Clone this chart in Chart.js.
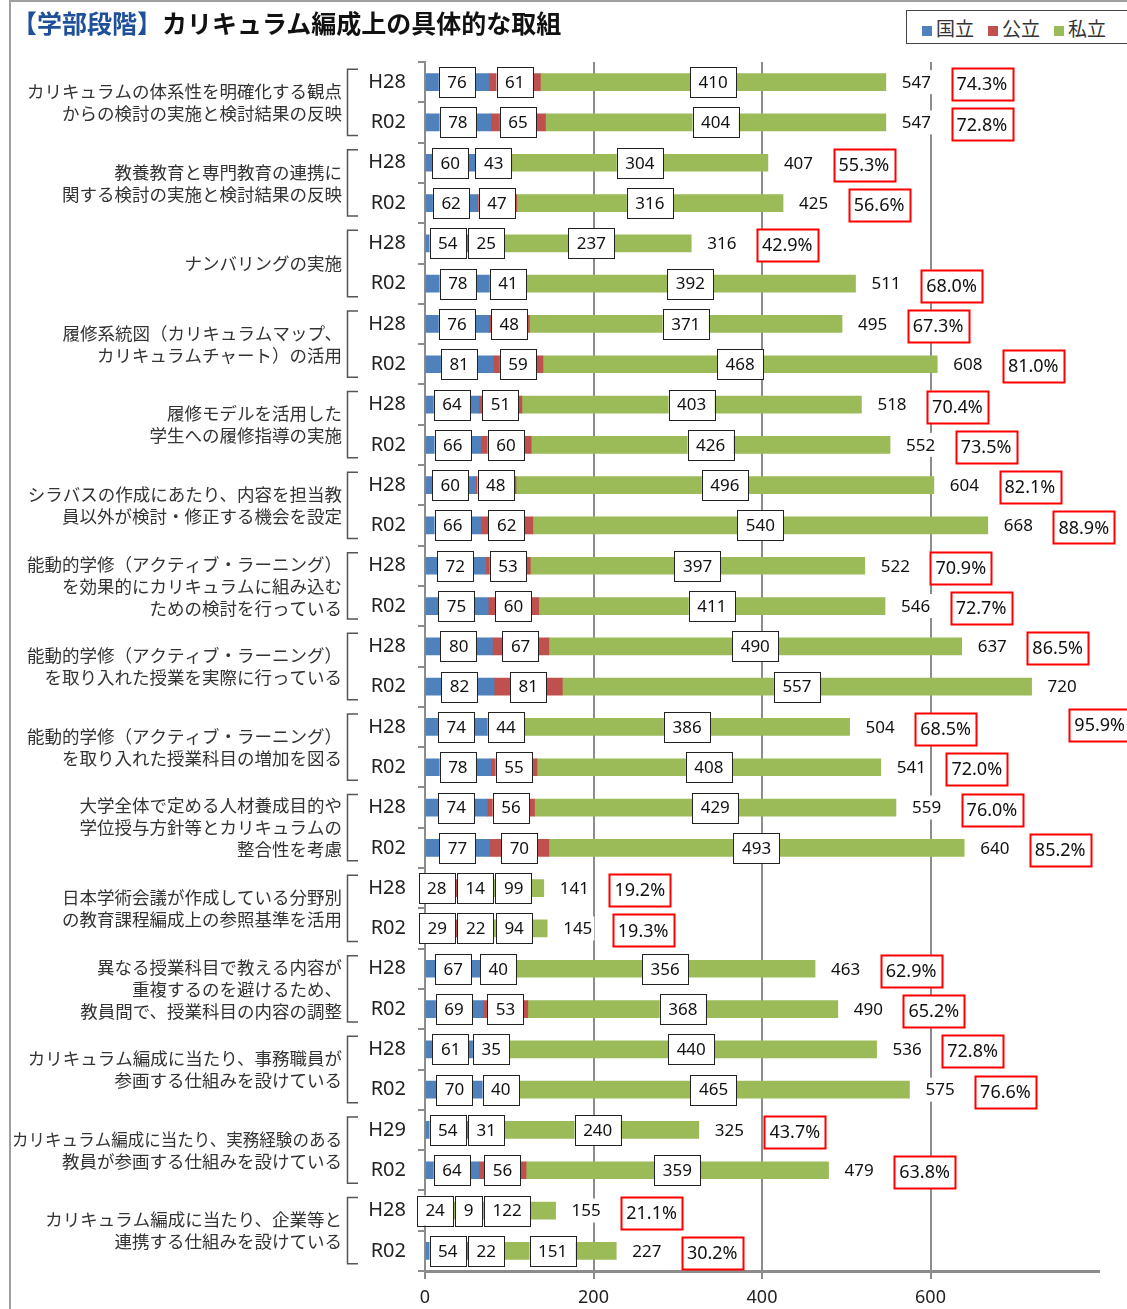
<!DOCTYPE html>
<html lang="ja">
<head>
<meta charset="utf-8">
<title>カリキュラム編成上の具体的な取組</title>
<script src="https://cdn.jsdelivr.net/npm/chart.js@4.4.1/dist/chart.umd.min.js"></script>
<style>
  body { margin: 0; background: #fff; }
  #wrap { position: relative; width: 1127px; height: 1309px; overflow: hidden; }
  #frame { position: absolute; left: 9px; top: 0; right: -5px; bottom: -5px; border-left: 2px solid #a0a0a0; border-top: 2px solid #a0a0a0; }
  #title { position: absolute; left: 12px; top: 7px; font: bold 25px/30px "Noto Sans CJK JP"; color: #111; white-space: nowrap; }
  #title span { color: #1f5099; }
  #legend { position: absolute; left: 906px; top: 10px; width: 240px; height: 34px; border: 1px solid #444; background: #fff;
            font: 19px/34px "Noto Sans CJK JP"; color: #333; white-space: nowrap; padding-left: 15px; box-sizing: border-box; }
  #legend i { display: inline-block; width: 10px; height: 10px; margin-right: 4px; vertical-align: 0px; }
  #legend b { font-weight: normal; margin-right: 14px; }
  canvas { position: absolute; left: 0; top: 0; }
</style>
</head>
<body>
<div id="wrap">
  <div id="frame"></div>
  <canvas id="chart" width="1127" height="1309"></canvas>
  <div id="title"><span>【学部段階】</span>カリキュラム編成上の具体的な取組</div>
  <div id="legend"></div>
</div>
<script>
// 行ラベル（調査年度）
const years = ['H28', 'R02', 'H28', 'R02', 'H28', 'R02', 'H28', 'R02', 'H28', 'R02',
               'H28', 'R02', 'H28', 'R02', 'H28', 'R02', 'H28', 'R02', 'H28', 'R02',
               'H28', 'R02', 'H28', 'R02', 'H28', 'R02', 'H29', 'R02', 'H28', 'R02'];

// 取組項目（2行ずつ）
const categories = [
  ['カリキュラムの体系性を明確化する観点', 'からの検討の実施と検討結果の反映'],
  ['教養教育と専門教育の連携に', '関する検討の実施と検討結果の反映'],
  ['ナンバリングの実施'],
  ['履修系統図（カリキュラムマップ、', 'カリキュラムチャート）の活用'],
  ['履修モデルを活用した', '学生への履修指導の実施'],
  ['シラバスの作成にあたり、内容を担当教', '員以外が検討・修正する機会を設定'],
  ['能動的学修（アクティブ・ラーニング）', 'を効果的にカリキュラムに組み込む', 'ための検討を行っている'],
  ['能動的学修（アクティブ・ラーニング）', 'を取り入れた授業を実際に行っている'],
  ['能動的学修（アクティブ・ラーニング）', 'を取り入れた授業科目の増加を図る'],
  ['大学全体で定める人材養成目的や', '学位授与方針等とカリキュラムの', '整合性を考慮'],
  ['日本学術会議が作成している分野別', 'の教育課程編成上の参照基準を活用'],
  ['異なる授業科目で教える内容が', '重複するのを避けるため、', '教員間で、授業科目の内容の調整'],
  ['カリキュラム編成に当たり、事務職員が', '参画する仕組みを設けている'],
  ['カリキュラム編成に当たり、実務経験のある', '教員が参画する仕組みを設けている'],
  ['カリキュラム編成に当たり、企業等と', '連携する仕組みを設けている']
];

const kokuritsu = [76, 78, 60, 62, 54, 78, 76, 81, 64, 66, 60, 66, 72, 75, 80, 82, 74, 78, 74, 77, 28, 29, 67, 69, 61, 70, 54, 64, 24, 54];
const kouritsu  = [61, 65, 43, 47, 25, 41, 48, 59, 51, 60, 48, 62, 53, 60, 67, 81, 44, 55, 56, 70, 14, 22, 40, 53, 35, 40, 31, 56, 9, 22];
const shiritsu  = [410, 404, 304, 316, 237, 392, 371, 468, 403, 426, 496, 540, 397, 411, 490, 557, 386, 408, 429, 493, 99, 94, 356, 368, 440, 465, 240, 359, 122, 151];
const percents  = ['74.3%', '72.8%', '55.3%', '56.6%', '42.9%', '68.0%', '67.3%', '81.0%', '70.4%', '73.5%',
                   '82.1%', '88.9%', '70.9%', '72.7%', '86.5%', '95.9%', '68.5%', '72.0%', '76.0%', '85.2%',
                   '19.2%', '19.3%', '62.9%', '65.2%', '72.8%', '76.6%', '43.7%', '63.8%', '21.1%', '30.2%'];
const xTicks = [0, 200, 400, 600];

const seriesNames = ['国立', '公立', '私立'];
const seriesColors = ['#4F81BD', '#C0504D', '#9BBB59'];
const series = [kokuritsu, kouritsu, shiritsu];

// 凡例
document.getElementById('legend').innerHTML = seriesNames
  .map((n, i) => '<i style="background:' + seriesColors[i] + '"></i><b>' + n + '</b>').join('');

const numFont = '17px "Noto Sans"';
const pctFont = '18px "Noto Sans"';

function box(c, cx, cy, w, h, stroke, lw) {
  c.fillStyle = '#fff';
  c.fillRect(cx - w / 2, cy - h / 2, w, h);
  c.strokeStyle = stroke;
  c.lineWidth = lw;
  c.strokeRect(Math.round(cx - w / 2) + 0.5, Math.round(cy - h / 2) + 0.5, Math.round(w), Math.round(h));
}

const valueLabels = {
  id: 'valueLabels',
  afterDatasetsDraw(chart) {
    const c = chart.ctx, xs = chart.scales.x, ys = chart.scales.y;
    c.save();
    c.textBaseline = 'middle';
    years.forEach((yr, i) => {
      const cy = ys.getPixelForValue(i);
      let start = 0, prevRight = -Infinity;
      c.font = numFont;
      series.forEach(arr => {
        const v = arr[i];
        const mid = xs.getPixelForValue(start + v / 2);
        start += v;
        const txt = String(v);
        const w = c.measureText(txt).width + 17, h = 30;
        let cx = mid;
        if (cx - w / 2 < prevRight + 2) cx = prevRight + 2 + w / 2;
        prevRight = cx + w / 2;
        box(c, cx, cy, w, h, '#222', 1);
        c.fillStyle = '#111';
        c.textAlign = 'center';
        c.fillText(txt, cx, cy + 1);
      });
      // 合計
      const endX = xs.getPixelForValue(start);
      const tTxt = String(start);
      const tw = c.measureText(tTxt).width;
      const tx = endX + 16;
      c.fillStyle = '#fff';
      c.fillRect(tx - 2, cy - 12, tw + 4, 24);
      c.fillStyle = '#111';
      c.textAlign = 'left';
      c.fillText(tTxt, tx, cy + 1);
      // 割合（赤枠）
      c.font = pctFont;
      const pTxt = percents[i];
      const pw = c.measureText(pTxt).width + 10, ph = 32;
      let px = Math.max(endX + 96, tx + tw + 8 + pw / 2);
      let py = cy + 2;
      if (px + pw / 2 > chart.width) { px = chart.width - pw / 2 + 3; py += 36; }
      box(c, px, py, pw, ph, '#ff0000', 2);
      c.fillStyle = '#111';
      c.textAlign = 'center';
      c.fillText(pTxt, px, py + 1);
    });
    c.restore();
  }
};

const groupLabels = {
  id: 'groupLabels',
  afterDraw(chart) {
    const c = chart.ctx, ys = chart.scales.y;
    c.save();
    c.font = '17.5px "Noto Sans CJK JP"';
    c.textAlign = 'right';
    c.textBaseline = 'middle';
    categories.forEach((lines, g) => {
      const y1 = ys.getPixelForValue(g * 2), y2 = ys.getPixelForValue(g * 2 + 1);
      const mid = (y1 + y2) / 2;
      c.fillStyle = '#333';
      lines.forEach((ln, k) => {
        const ly = mid + (k - (lines.length - 1) / 2) * 22;
        c.fillText(ln, 342, ly, 330);
      });
      c.strokeStyle = '#555';
      c.lineWidth = 1.5;
      c.beginPath();
      c.moveTo(358, y1 - 13);
      c.lineTo(347.5, y1 - 13);
      c.lineTo(347.5, y2 + 13);
      c.lineTo(358, y2 + 13);
      c.stroke();
    });
    c.restore();
  }
};

new Chart(document.getElementById('chart'), {
  type: 'bar',
  data: {
    labels: years,
    datasets: series.map((arr, i) => ({
      label: seriesNames[i],
      data: arr,
      backgroundColor: seriesColors[i],
      barThickness: 17
    }))
  },
  options: {
    indexAxis: 'y',
    responsive: false,
    animation: false,
    layout: { padding: { top: 62, right: 28, left: 0, bottom: 0 } },
    plugins: { legend: { display: false }, tooltip: { enabled: false } },
    scales: {
      x: {
        stacked: true,
        min: 0,
        max: 800,
        afterFit: s => { s.height = 38; },
        ticks: {
          stepSize: 200,
          color: '#222',
          font: { size: 18, family: 'Noto Sans' },
          padding: 8,
          callback: v => xTicks.includes(v) ? v : ''
        },
        grid: {
          color: ctx => (ctx.tick && xTicks.includes(ctx.tick.value) && ctx.tick.value !== 0) ? '#8c8c8c' : 'rgba(0,0,0,0)',
          tickColor: ctx => (ctx.tick && xTicks.includes(ctx.tick.value)) ? '#8c8c8c' : 'rgba(0,0,0,0)',
          lineWidth: 2,
          tickLength: 8
        },
        border: { color: '#8c8c8c', width: 3 }
      },
      y: {
        stacked: true,
        afterFit: s => { s.width = 425; },
        ticks: {
          color: '#222',
          font: { size: 20, family: 'Noto Sans' },
          padding: 12
        },
        grid: {
          drawOnChartArea: false,
          color: '#8c8c8c',
          lineWidth: 2,
          tickLength: 7
        },
        border: { color: '#8c8c8c', width: 2 }
      }
    }
  },
  plugins: [valueLabels, groupLabels]
});
</script>
</body>
</html>
